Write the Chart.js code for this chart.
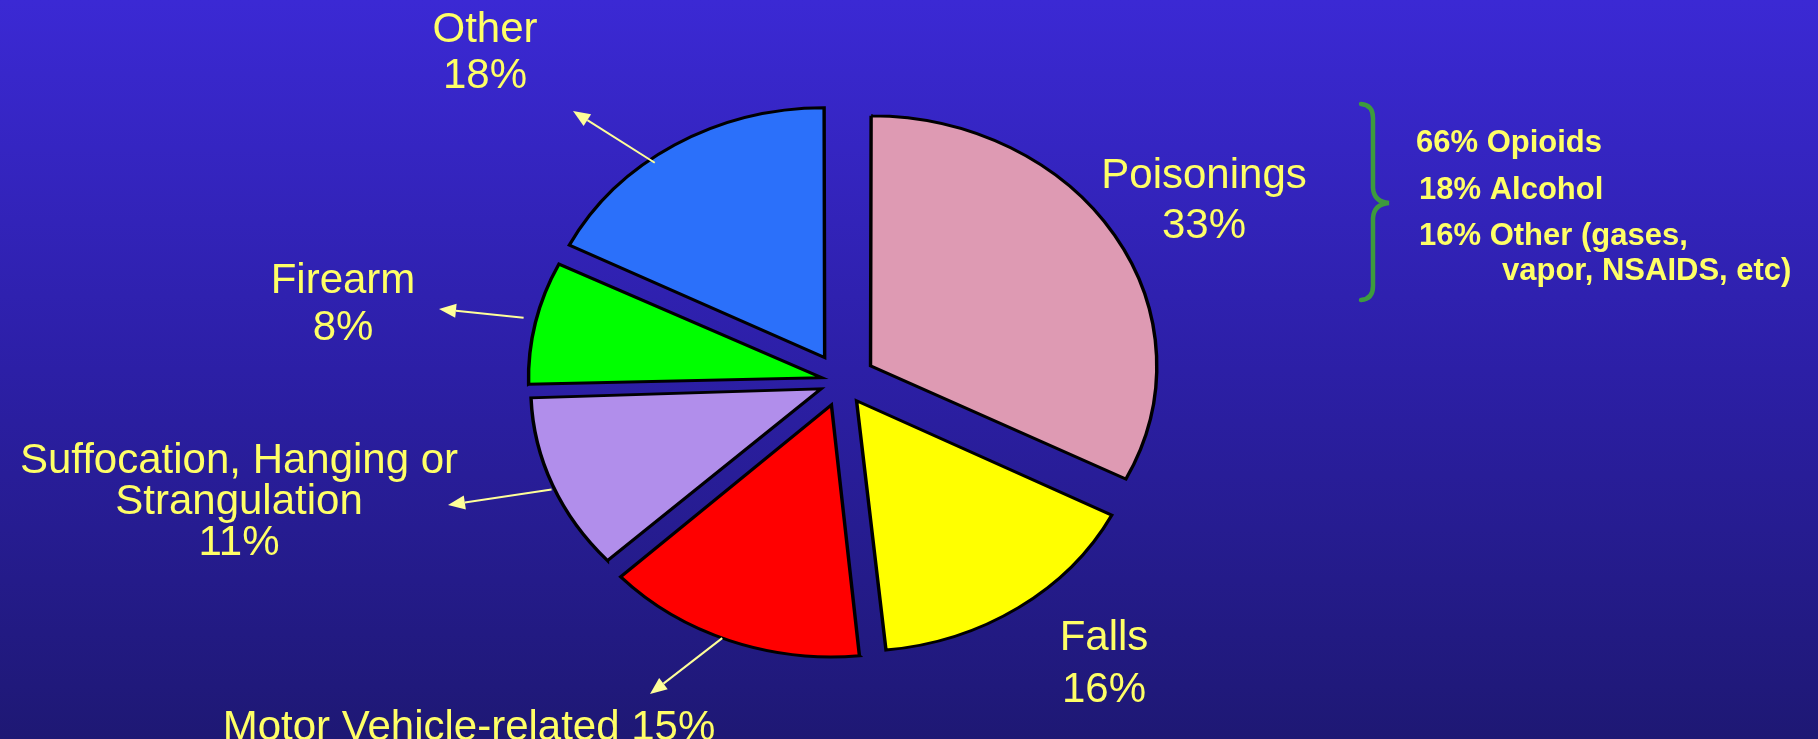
<!DOCTYPE html>
<html>
<head>
<meta charset="utf-8">
<script src="https://cdn.jsdelivr.net/npm/chart.js@4.4.1/dist/chart.umd.min.js"></script>
<style>
  html, body { margin: 0; padding: 0; }
  body {
    width: 1818px; height: 739px; overflow: hidden;
    background: linear-gradient(to bottom, #3b29d4 0%, #2c1fa6 50%, #1e1874 100%);
  }
  canvas { display: block; }
</style>
</head>
<body>
<canvas id="myChart" width="1818" height="739"></canvas>
<script>
// injury deaths by cause, share of the pie in %
var causes = [['Poisonings'], ['Falls'], ['Motor Vehicle-related'], ['Suffocation, Hanging or', 'Strangulation'], ['Firearm'], ['Other']];
var shares = [32.5, 15.9, 14.7, 11.4, 7.9, 17.6];

// what the poisonings are made of, %
var poisonTypes = [['Opioids'], ['Alcohol'], ['Other (gases,', 'vapor, NSAIDS, etc)']];
var poisonShares = [66, 18, 16];

var sliceColors = ['#de9ab3', '#ffff00', '#ff0000', '#b18eeb', '#00ff00', '#2b70fa'];
var explode = [33, 27, 30, 26, 27, 31];   // px each slice is pulled out
var stretchX = 1.144;                      // the pie is an ellipse in the slide
var font = '"Liberation Sans", Arial, sans-serif';

var labelPos = [
    {x: 1204, y: 188, lh: 50},
    {x: 1104, y: 650, lh: 52},
    {x: 469, y: 740, inline: true},
    {x: 239, y: 473, lh: 41},
    {x: 343, y: 293, lh: 47},
    {x: 485, y: 42, lh: 46}
];
var arrows = [
    {slice: 5, at: 0.41, r: 0.98, tip: [573, 111]},
    {slice: 4, at: 0.52, r: 1.045, tip: [439, 309]},
    {slice: 3, at: 0.48, r: 1.01, tip: [448, 505]},
    {slice: 2, at: 0.53, r: 1.0, tip: [650, 694]}
];
var subPos = [{x: 1416, y: 152}, {x: 1419, y: 199}, {x: 1419, y: 245, x2: 1502, lh: 35}];

function center(chart) {
    var a = chart.chartArea;
    return {x: (a.left + a.right) / 2, y: (a.top + a.bottom) / 2};
}

var stretch = {
    id: 'stretch',
    beforeDatasetsDraw: function (chart) {
        var c = center(chart), ctx = chart.ctx;
        ctx.save();
        ctx.translate(c.x, c.y);
        ctx.scale(stretchX, 1);
        ctx.translate(-c.x, -c.y);
    },
    afterDatasetsDraw: function (chart) {
        chart.ctx.restore();
    }
};

function drawArrow(ctx, x1, y1, x2, y2) {
    var ang = Math.atan2(y2 - y1, x2 - x1);
    var len = 17, half = 7;
    var bx = x2 - len * Math.cos(ang), by = y2 - len * Math.sin(ang);
    ctx.beginPath();
    ctx.moveTo(x1, y1);
    ctx.lineTo(bx, by);
    ctx.stroke();
    ctx.beginPath();
    ctx.moveTo(x2, y2);
    ctx.lineTo(bx + half * Math.sin(ang), by - half * Math.cos(ang));
    ctx.lineTo(bx - half * Math.sin(ang), by + half * Math.cos(ang));
    ctx.closePath();
    ctx.fill();
}

var annotate = {
    id: 'annotate',
    afterDraw: function (chart) {
        var ctx = chart.ctx, c = center(chart);
        var meta = chart.getDatasetMeta(0);
        ctx.save();

        // arrows from the slices to their labels
        ctx.strokeStyle = '#ffff99';
        ctx.fillStyle = '#ffff99';
        ctx.lineWidth = 2;
        arrows.forEach(function (ar) {
            var el = meta.data[ar.slice];
            var mid = (el.startAngle + el.endAngle) / 2;
            var a = el.startAngle + ar.at * (el.endAngle - el.startAngle);
            var px = el.x + explode[ar.slice] * Math.cos(mid) + ar.r * el.outerRadius * Math.cos(a);
            var py = el.y + explode[ar.slice] * Math.sin(mid) + ar.r * el.outerRadius * Math.sin(a);
            px = c.x + (px - c.x) * stretchX;
            drawArrow(ctx, px, py, ar.tip[0], ar.tip[1]);
        });

        // slice labels
        ctx.fillStyle = '#ffff66';
        ctx.textAlign = 'center';
        ctx.textBaseline = 'alphabetic';
        ctx.font = '42px ' + font;
        causes.forEach(function (lines, i) {
            var p = labelPos[i];
            var pct = Math.round(shares[i]) + '%';
            if (p.inline) {
                ctx.fillText(lines.join(' ') + ' ' + pct, p.x, p.y);
                return;
            }
            lines.concat([pct]).forEach(function (t, k) {
                ctx.fillText(t, p.x, p.y + k * p.lh);
            });
        });

        // curly brace
        ctx.strokeStyle = '#3d9b3d';
        ctx.lineWidth = 4.5;
        ctx.lineCap = 'round';
        ctx.beginPath();
        ctx.moveTo(1361, 104);
        ctx.quadraticCurveTo(1373, 105, 1373, 118);
        ctx.lineTo(1373, 188);
        ctx.quadraticCurveTo(1374, 202, 1389, 203);
        ctx.quadraticCurveTo(1374, 204, 1373, 218);
        ctx.lineTo(1373, 286);
        ctx.quadraticCurveTo(1373, 299, 1361, 300);
        ctx.stroke();

        // poisonings breakdown
        ctx.textAlign = 'left';
        ctx.font = 'bold 31px ' + font;
        poisonTypes.forEach(function (lines, i) {
            var p = subPos[i];
            ctx.fillText(poisonShares[i] + '% ' + lines[0], p.x, p.y);
            for (var k = 1; k < lines.length; k++) {
                ctx.fillText(lines[k], p.x2, p.y + k * p.lh);
            }
        });
        ctx.restore();
    }
};

var ctx = document.getElementById('myChart').getContext('2d');
var myChart = new Chart(ctx, {
    type: 'pie',
    data: {
        labels: causes.map(function (c) { return c.join(' '); }),
        datasets: [{
            data: shares,
            backgroundColor: sliceColors,
            borderColor: '#000000',
            borderWidth: 3,
            borderJoinStyle: 'miter',
            radius: 247,
            offset: function (c) {
                var tot = shares.reduce(function (a, b) { return a + b; }, 0);
                var circ = shares[c.dataIndex] / tot * 2 * Math.PI;
                return 4 * explode[c.dataIndex] / (2 - Math.sin(Math.min(Math.PI, circ)));
            }
        }]
    },
    options: {
        responsive: false,
        animation: false,
        events: [],
        layout: {padding: {left: 0, right: 135, top: 24, bottom: 0}},
        plugins: {
            legend: {display: false},
            tooltip: {enabled: false}
        }
    },
    plugins: [stretch, annotate]
});
</script>
</body>
</html>
